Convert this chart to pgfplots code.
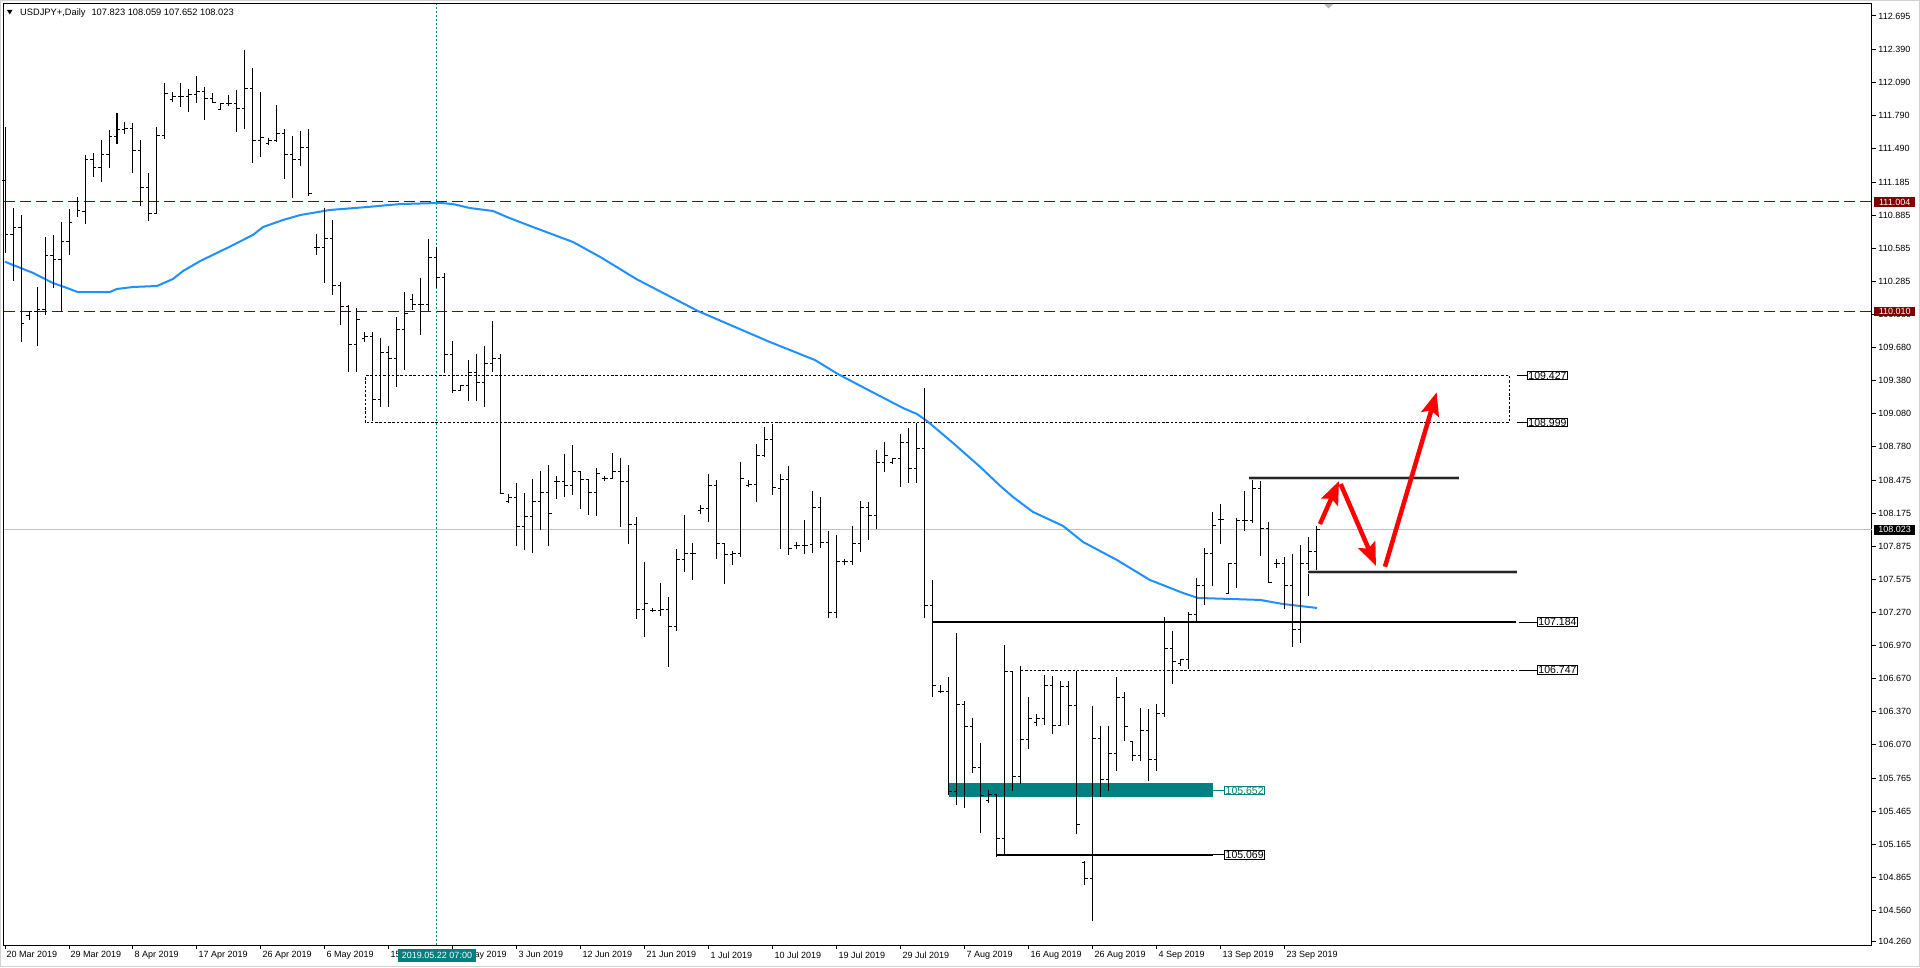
\documentclass[border=0pt]{standalone}
\usepackage{fontspec}
\setmainfont{Liberation Sans}
\usepackage{pgfplots}
\pgfplotsset{compat=1.18}
\usepackage{pgfplotstable}
\usetikzlibrary{arrows.meta}

\definecolor{mtmaroon}{RGB}{128,0,0}
\definecolor{mtteal}{RGB}{0,128,128}
\definecolor{mtblue}{RGB}{30,144,255}
\definecolor{mtsilver}{RGB}{192,192,192}
\definecolor{mtred}{RGB}{255,0,0}

\pgfplotstableread{
k o h l c
0 111.200 111.688 110.537 110.712
1 110.712 110.946 110.288 110.773
2 110.773 110.885 109.734 109.900
3 109.973 110.015 109.931 110.006
4 110.006 110.234 109.697 110.027
5 110.027 110.688 109.976 110.521
6 110.521 110.703 110.218 110.482
7 110.482 110.824 110.006 110.649
8 110.649 110.943 110.521 110.821
9 111.012 111.052 110.870 110.924
10 110.918 111.431 110.800 111.394
11 111.394 111.446 111.234 111.318
12 111.318 111.567 111.188 111.437
13 111.431 111.664 111.315 111.603
14 111.603 111.815 111.531 111.667
15 111.667 111.731 111.621 111.673
16 111.673 111.724 111.270 111.476
17 111.476 111.573 110.970 111.131
18 111.131 111.270 110.834 110.900
19 110.900 111.682 110.900 111.606
20 111.606 112.082 111.573 111.991
21 111.937 112.006 111.912 111.967
22 111.967 112.088 111.870 111.967
23 111.967 112.027 111.824 111.985
24 111.985 112.149 111.906 112.012
25 112.012 112.052 111.749 111.949
26 111.949 111.997 111.906 111.906
27 111.846 111.906 111.840 111.900
28 111.900 111.976 111.876 111.900
29 111.900 112.021 111.637 111.855
30 111.855 112.385 111.664 112.037
31 112.037 112.224 111.355 111.567
32 111.567 112.006 111.415 111.588
33 111.531 111.582 111.518 111.561
34 111.561 111.885 111.552 111.627
35 111.627 111.673 111.218 111.431
36 111.431 111.603 111.037 111.394
37 111.394 111.652 111.334 111.500
38 111.500 111.664 111.058 111.082
39 110.591 110.712 110.521 110.591
40 110.591 110.946 110.270 110.673
41 110.673 110.840 110.158 110.249
42 110.249 110.276 109.885 110.052
43 110.052 110.073 109.458 109.710
44 109.710 110.040 109.458 109.931
45 109.764 109.825 109.734 109.779
46 109.779 109.822 109.013 109.204
47 109.204 109.770 109.143 109.637
48 109.637 109.698 109.143 109.582
49 109.582 109.961 109.325 109.849
50 109.849 110.185 109.479 109.991
51 110.113 110.164 110.022 110.073
52 110.073 110.313 109.794 110.073
53 110.073 110.667 110.010 110.500
54 110.500 110.598 110.219 110.319
55 110.319 110.355 109.452 109.613
56 109.613 109.740 109.264 109.288
57 109.294 109.340 109.288 109.331
58 109.331 109.573 109.198 109.455
59 109.455 109.622 109.198 109.361
60 109.361 109.698 109.143 109.537
61 109.537 109.922 109.455 109.582
62 109.582 109.619 108.349 108.355
63 108.285 108.346 108.264 108.319
64 108.319 108.452 107.879 108.052
65 108.052 108.361 107.840 108.143
66 108.143 108.485 107.816 108.285
67 108.285 108.558 108.022 108.364
68 108.364 108.613 107.879 108.173
69 108.467 108.513 108.304 108.467
70 108.467 108.713 108.325 108.428
71 108.428 108.795 108.340 108.558
72 108.558 108.558 108.213 108.482
73 108.482 108.485 108.158 108.364
74 108.364 108.585 108.149 108.531
75 108.488 108.510 108.464 108.488
76 108.488 108.725 108.488 108.558
77 108.558 108.673 108.052 108.467
78 108.467 108.613 107.895 108.076
79 108.076 108.137 107.216 107.301
80 107.301 107.728 107.052 107.355
81 107.294 107.310 107.276 107.294
82 107.294 107.543 107.243 107.301
83 107.301 107.413 106.779 107.149
84 107.149 107.849 107.101 107.755
85 107.755 108.158 107.643 107.810
86 107.810 107.901 107.564 107.810
87 108.195 108.246 108.164 108.213
88 108.213 108.531 108.097 108.428
89 108.428 108.476 107.761 107.901
90 107.901 107.901 107.534 107.801
91 107.801 107.834 107.707 107.810
92 107.810 108.640 107.779 108.491
93 108.422 108.476 108.410 108.437
94 108.437 108.804 108.279 108.701
95 108.701 108.955 108.688 108.846
96 108.846 108.985 108.340 108.410
97 108.401 108.531 107.852 108.482
98 108.482 108.601 107.797 107.855
99 107.882 107.910 107.846 107.882
100 107.882 108.113 107.801 107.882
101 107.886 108.377 107.818 108.222
102 108.222 108.323 107.862 107.909
103 107.909 108.013 107.220 107.273
104 107.273 107.976 107.220 107.734
105 107.734 107.761 107.701 107.734
106 107.734 108.064 107.701 107.896
107 107.896 108.286 107.825 108.229
108 108.229 108.279 107.933 108.151
109 108.151 108.750 108.034 108.632
110 108.632 108.821 108.552 108.699
111 108.632 108.676 108.619 108.676
112 108.676 108.895 108.417 108.821
113 108.821 108.945 108.447 108.582
114 108.582 108.996 108.447 108.767
115 108.767 109.315 107.223 107.337
116 107.337 107.566 106.506 106.607
117 106.557 106.617 106.540 106.557
118 106.557 106.685 105.615 105.649
119 105.649 107.085 105.524 106.439
120 106.439 106.466 105.497 106.231
121 106.231 106.315 105.817 105.867
122 105.867 106.086 105.272 105.608
123 105.565 105.659 105.541 105.615
124 105.615 105.615 105.053 105.218
125 105.218 106.977 105.077 106.735
126 106.735 106.735 105.649 105.777
127 105.777 106.786 105.709 106.120
128 106.120 106.506 106.029 106.311
129 106.271 106.348 106.244 106.311
130 106.311 106.701 106.254 106.607
131 106.607 106.691 106.163 106.247
132 106.247 106.651 106.237 106.597
133 106.597 106.654 106.254 106.422
134 106.422 106.742 105.262 105.346
135 105.000 105.014 104.796 104.850
136 104.850 106.422 104.469 106.128
137 106.128 106.240 105.598 105.755
138 105.755 106.240 105.652 105.992
139 105.992 106.682 105.834 106.501
140 106.501 106.546 106.107 106.240
141 106.098 106.098 105.925 105.976
142 105.976 106.407 105.925 106.195
143 106.195 106.395 105.743 105.937
144 105.937 106.437 105.834 106.355
145 106.355 107.234 106.325 106.946
146 106.946 107.104 106.622 106.825
147 106.810 106.846 106.785 106.846
148 106.846 107.279 106.755 107.258
149 107.258 107.588 107.188 107.513
150 107.513 107.861 107.340 107.810
151 107.810 108.188 107.516 108.067
152 108.113 108.258 107.895 108.113
153 107.446 107.719 107.440 107.719
154 107.719 108.128 107.498 108.104
155 108.104 108.379 108.016 108.104
156 108.104 108.482 108.082 108.395
157 108.395 108.470 107.788 108.037
158 108.037 108.098 107.543 107.543
159 107.719 107.755 107.673 107.719
160 107.719 107.773 107.307 107.513
161 107.513 107.804 106.961 107.113
162 107.113 107.882 106.998 107.719
163 107.719 107.961 107.425 107.825
164 107.823 108.059 107.652 108.023
}\bars

\begin{document}
\begin{tikzpicture}[x=1pt,y=1pt]
\path[use as bounding box, fill=white] (0,0) rectangle (1920,967);
\draw[gray!35, line width=1pt] (0.5,0.5) rectangle (1919.5,966.5);
\begin{axis}[
  at={(3.5pt,22pt)}, anchor=south west, scale only axis,
  width=1868.5pt, height=941pt,
  xmin=-0.1875, xmax=233.375, ymin=104.24909, ymax=112.80364,
  clip=false,
  axis line style={black, line width=1pt},
  tick align=outside,
  xtick pos=bottom, ytick pos=right, yticklabel pos=right,
  major tick length=4pt,
  tick style={black, line width=1pt},
  xtick={0,8,...,160},
  xticklabels={20 Mar 2019,29 Mar 2019,8 Apr 2019,17 Apr 2019,26 Apr 2019,6 May 2019,15 May 2019,24 May 2019,3 Jun 2019,12 Jun 2019,21 Jun 2019,1 Jul 2019,10 Jul 2019,19 Jul 2019,29 Jul 2019,7 Aug 2019,16 Aug 2019,26 Aug 2019,4 Sep 2019,13 Sep 2019,23 Sep 2019},
  ytick={104.283,104.560,104.865,105.165,105.465,105.765,106.070,106.370,106.670,106.970,107.270,107.575,107.875,108.175,108.475,108.780,109.080,109.380,109.680,109.980,110.285,110.585,110.885,111.185,111.490,111.790,112.090,112.390,112.695},
  yticklabels={104.260,104.560,104.865,105.165,105.465,105.765,106.070,106.370,106.670,106.970,107.270,107.575,107.875,108.175,108.475,108.780,109.080,109.380,109.680,109.980,110.285,110.585,110.885,111.185,111.490,111.790,112.090,112.390,112.695},
  ticklabel style={font=\fontsize{9}{10}\selectfont, text=black},
  xticklabel style={anchor=north west, inner sep=0pt, xshift=1.5pt, yshift=-2.5pt},
  yticklabel style={anchor=west, inner sep=0pt, xshift=2.3pt},
]
% background reference lines
\draw[mtsilver, line width=1pt] (axis cs:-0.1875,108.023) -- (axis cs:233.375,108.023);
\draw[mtmaroon, line width=1pt, dash pattern=on 11pt off 5pt] (axis cs:-0.1875,111.004) -- (axis cs:233.375,111.004);
\draw[mtmaroon, line width=1pt, dash pattern=on 11pt off 5pt] (axis cs:-0.1875,110.010) -- (axis cs:233.375,110.010);
\draw[mtteal, line width=1pt, dash pattern=on 2pt off 2pt] (axis cs:54,104.24909) -- (axis cs:54,112.80364);
\draw[black, line width=1.1pt, dash pattern=on 2.5pt off 1.8pt] (axis cs:45.1,108.999) rectangle (axis cs:188.04,109.427);
\draw[black, line width=1.1pt, dash pattern=on 2.5pt off 1.8pt] (axis cs:127,106.747) -- (axis cs:188.9,106.747);
\fill[mtteal] (axis cs:118,105.597) rectangle (axis cs:150.96,105.719);

% moving average
\addplot[mtblue, line width=2pt] coordinates {
(0,110.461) (1,110.431) (3.5,110.359) (6,110.267) (7.75,110.222) (9.1,110.185) (13.1,110.185) (14,110.213) (16,110.231) (19,110.240) (21,110.304) (22.25,110.376) (24.4,110.467) (27.75,110.585) (31,110.704) (32.25,110.776) (34.75,110.840) (36.9,110.885) (40.6,110.931) (45.25,110.958) (49.4,110.985) (54.4,110.995) (56,110.985) (58.1,110.949) (61,110.922) (62.75,110.867) (66,110.776) (71,110.640) (74.4,110.504) (79,110.300) (86.6,110.013) (95.6,109.731) (101.25,109.567) (104.1,109.440) (107.9,109.295) (112.25,109.131) (114,109.076) (115.25,109.013) (118.5,108.813) (121.9,108.595) (124.4,108.423) (126,108.322) (128.5,108.186) (132.25,108.059) (134.75,107.913) (139,107.749) (143.1,107.568) (147.25,107.449) (149.1,107.404) (153.1,107.395) (156.9,107.386) (159.75,107.349) (164,107.313)};

% OHLC bars
\addplot[draw=none, mark=none, error bars/.cd, y dir=both, y explicit, error mark=none,
  error bar style={draw=black, solid, line width=1pt, line cap=butt}]
  table[x=k, y expr={(\thisrow{h}+\thisrow{l})/2}, y error expr={(\thisrow{h}-\thisrow{l})/2}] {\bars};
\addplot[draw=none, mark=none, error bars/.cd, x dir=minus, x fixed=0.375, error mark=none,
  error bar style={draw=black, solid, line width=1pt, line cap=butt}]
  table[x=k, y=o] {\bars};
\addplot[draw=none, mark=none, error bars/.cd, x dir=plus, x fixed=0.375, error mark=none,
  error bar style={draw=black, solid, line width=1pt, line cap=butt}]
  table[x=k, y=c] {\bars};

% level lines and labels
\draw[black, line width=2pt] (axis cs:116,107.184) -- (axis cs:188.9,107.184);
\draw[black, line width=2pt] (axis cs:124,105.069) -- (axis cs:151,105.069);
\draw[gray!45, line width=4pt] (axis cs:155.5,108.492) -- (axis cs:181.75,108.492);
\draw[black!85, line width=2pt] (axis cs:155.5,108.492) -- (axis cs:181.75,108.492);
\draw[gray!45, line width=4pt] (axis cs:162.9,107.637) -- (axis cs:189,107.637);
\draw[black!85, line width=2pt] (axis cs:162.9,107.637) -- (axis cs:189,107.637);

\tikzset{lvl/.style={draw=black, fill=white, line width=1pt, anchor=west, inner xsep=1pt, inner ysep=0.6pt, font=\fontsize{10.5}{11}\selectfont}}
\draw[black, line width=1pt] (axis cs:189,109.427) -- (axis cs:190.25,109.427);
\node[lvl] at (axis cs:190.25,109.427) {109.427};
\draw[black, line width=1pt] (axis cs:189,108.999) -- (axis cs:190.25,108.999);
\node[lvl] at (axis cs:190.25,108.999) {108.999};
\draw[black, line width=1pt] (axis cs:189.25,107.184) -- (axis cs:191.5,107.184);
\node[lvl] at (axis cs:191.5,107.184) {107.184};
\draw[black, line width=1pt] (axis cs:189.25,106.747) -- (axis cs:191.5,106.747);
\node[lvl] at (axis cs:191.5,106.747) {106.747};
\draw[mtteal, line width=1pt] (axis cs:150.96,105.652) -- (axis cs:152.4,105.652);
\node[lvl, draw=mtteal, text=mtteal] at (axis cs:152.4,105.652) {105.652};
\draw[black, line width=1pt] (axis cs:151,105.069) -- (axis cs:152.4,105.069);
\node[lvl] at (axis cs:152.4,105.069) {105.069};

% red arrows
\tikzset{rarr/.style={mtred, line width=4.5pt, -{Stealth[length=23pt, width=18pt, inset=4pt]}}}
\draw[rarr] (axis cs:164.375,108.076) -- (axis cs:166.75,108.467);
\draw[rarr] (axis cs:166.96,108.440) -- (axis cs:171.375,107.695);
\draw[rarr] (axis cs:172.5,107.688) -- (axis cs:178.96,109.274);

\coordinate (p111) at (axis cs:233.375,111.004);
\coordinate (p110) at (axis cs:233.375,110.010);
\coordinate (pcur) at (axis cs:233.375,108.023);
\coordinate (dt) at (axis cs:54,104.24909);
\end{axis}

\tikzset{axbox/.style={anchor=west, inner sep=0pt, minimum width=41pt, minimum height=9.5pt, text=white, font=\fontsize{9}{10}\selectfont}}
\node[axbox, fill=mtmaroon] at ([xshift=2pt]p111) {111.004};
\node[axbox, fill=mtmaroon] at ([xshift=2pt]p110) {110.010};
\node[axbox, fill=black] at ([xshift=2pt]pcur) {108.023};
\node[fill=mtteal, text=white, inner xsep=4pt, inner ysep=0pt, minimum height=13pt, font=\fontsize{9}{10}\selectfont] at ([yshift=-10pt]dt) {2019.05.22 07:00};

% header
\fill[black] (7,957) -- (12.5,957) -- (9.75,952.5) -- cycle;
\node[anchor=west, inner sep=0pt, font=\fontsize{9.3}{10}\selectfont] at (20,954.3) {USDJPY+,Daily\hspace{6pt}107.823 108.059 107.652 108.023};
% chart shift marker
\fill[gray!55] (1324,963) -- (1333,963) -- (1328.5,958.5) -- cycle;
\end{tikzpicture}
\end{document}
